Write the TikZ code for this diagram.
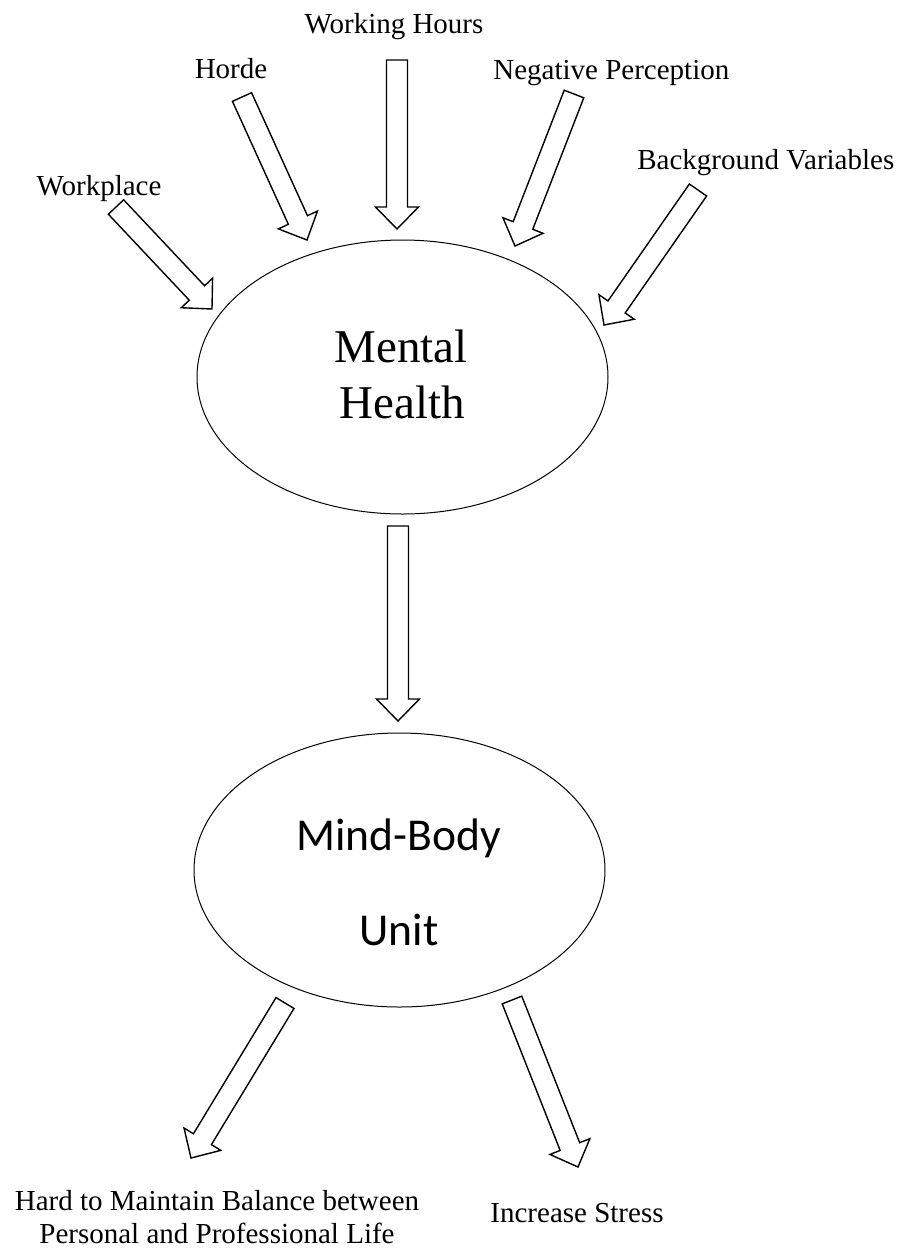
\documentclass[tikz,border=0pt]{standalone}
\usepackage{fontspec}
\setmainfont{Liberation Serif}
\newfontfamily\calibrifont{Carlito}
\usetikzlibrary{calc}
\tikzset{
  fatline/.style={draw=black, line width=0.7pt, fill=white, line join=miter},
  ell/.style={draw=black, line width=0.5pt},
  lab/.style={inner sep=0pt, font=\fontsize{14.5pt}{17pt}\selectfont},
  bigserif/.style={inner sep=0pt, font=\fontsize{23.5pt}{28pt}\selectfont},
  bigsans/.style={inner sep=0pt, font=\calibrifont\fontsize{22.8pt}{27pt}\selectfont}
}
\newcommand\fatarrow[2]{%
  \coordinate (hb) at ($(#2)!11pt!(#1)$);
  \draw[fatline] ($(#1)!5.25pt!90:(#2)$) -- ($(hb)!5.25pt!90:(#2)$) -- ($(hb)!10.75pt!90:(#2)$) -- (#2)
     -- ($(hb)!10.75pt!-90:(#2)$) -- ($(hb)!5.25pt!-90:(#2)$) -- ($(#1)!5.25pt!-90:(#2)$) -- cycle;}
\begin{document}
\begin{tikzpicture}[x=0.5pt,y=-0.5pt]
\useasboundingbox (0,0) rectangle (903,1250);
% ellipses
\draw[ell] (402.5,377) ellipse [x radius=205.5, y radius=137];
\draw[ell] (399.5,870) ellipse [x radius=205.5, y radius=137];
\node[bigserif, anchor=base] (mh1) at (401,362) {Mental};
\node[bigserif, anchor=base] (mh2) at (402,418) {Health};
\node[bigsans, anchor=base] (mb1) at (398.5,850) {Mind-Body};
\node[bigsans, anchor=base] (mb2) at (399,945) {Unit};
% labels
\node[lab, anchor=base] (wp) at (99,195) {Workplace};
\node[lab, anchor=base] (ho) at (231,78) {Horde};
\node[lab, anchor=base] (wh) at (394,33) {Working Hours};
\node[lab, anchor=base west] (np) at (493,79) {Negative Perception};
\node[lab, anchor=base west] (bv) at (637,169) {Background Variables};
\node[lab, anchor=base] (hd1) at (217,1210) {Hard to Maintain Balance between};
\node[lab, anchor=base] (hd2) at (217,1243) {Personal and Professional Life};
\node[lab, anchor=base] (is) at (577,1222) {Increase Stress};
% arrow ends
\coordinate (wpT) at (116,207); \coordinate (wpP) at (212,309);
\coordinate (hoT) at (242,97);  \coordinate (hoP) at (307,240);
\coordinate (whT) at (397,60);  \coordinate (whP) at (397,229);
\coordinate (npT) at (574,94);  \coordinate (npP) at (515,246);
\coordinate (bvT) at (698,190); \coordinate (bvP) at (604,325);
\coordinate (mdT) at (398,526); \coordinate (mdP) at (398,721);
\coordinate (lbT) at (285,1003); \coordinate (lbP) at (191,1158);
\coordinate (rbT) at (512,1000); \coordinate (rbP) at (578,1167);
\fatarrow{wpT}{wpP}
\fatarrow{hoT}{hoP}
\fatarrow{whT}{whP}
\fatarrow{npT}{npP}
\fatarrow{bvT}{bvP}
\fatarrow{mdT}{mdP}
\fatarrow{lbT}{lbP}
\fatarrow{rbT}{rbP}
\end{tikzpicture}
\end{document}
